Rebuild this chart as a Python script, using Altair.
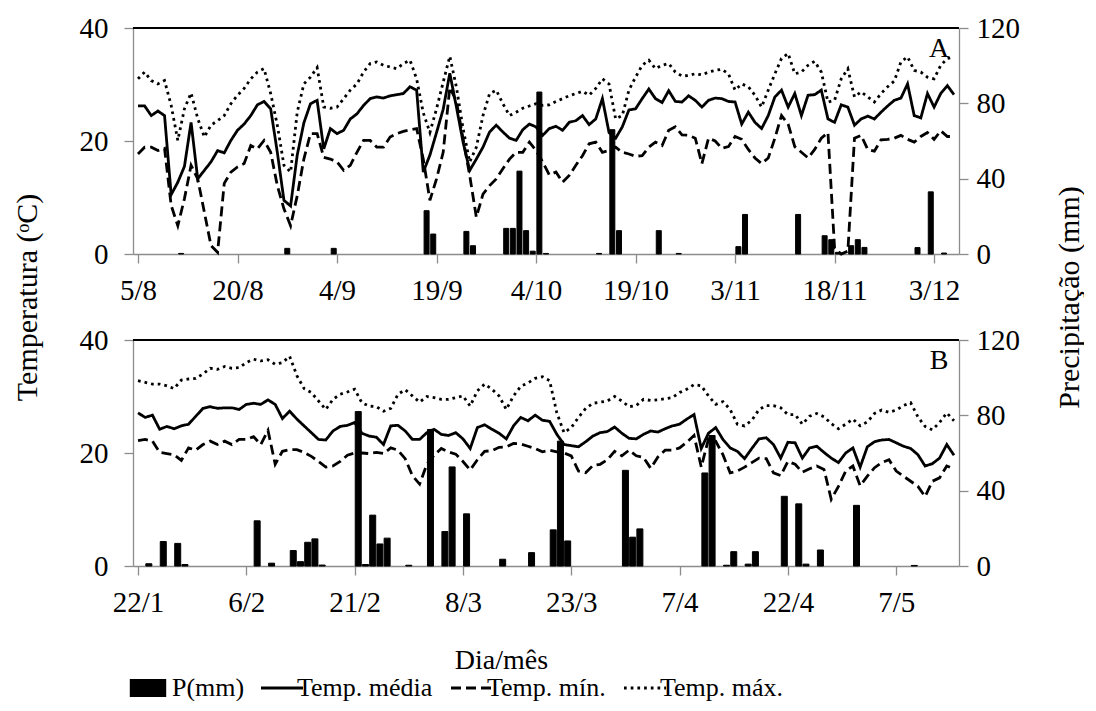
import json
import altair as alt
import pandas as pd

# ---------------- data ----------------
SERIES = ["Temp. média", "Temp. mín.", "Temp. máx."]
DASHES = [[1, 0], [10, 5], [2.7, 4]]

LABELS_A = ["5/8", "20/8", "4/9", "19/9", "4/10", "19/10", "3/11", "18/11", "3/12"]
LABELS_B = ["22/1", "6/2", "21/2", "8/3", "23/3", "7/4", "22/4", "7/5"]

A_MED = [26.2, 26.2, 24.5, 25.3, 24.5, 10.5, 12.7, 15.5, 23.3, 13.3,
         14.8, 16.3, 18.3, 17.9, 20.1, 21.9, 23.0, 24.5, 26.4, 27.0,
         25.7, 18.0, 9.5, 8.5, 17.5, 23.2, 26.6, 27.2, 18.6, 22.2,
         21.3, 21.9, 23.9, 24.8, 26.3, 27.5, 27.8, 27.6, 28.0, 28.2,
         28.4, 29.6, 29.0, 14.5, 17.5, 21.5, 25.6, 32.0, 26.0, 19.8,
         14.8, 16.8, 18.9, 21.6, 22.8, 21.6, 20.5, 20.1, 22.0, 23.0,
         22.5, 21.0, 22.2, 22.6, 21.9, 23.3, 23.6, 24.5, 22.9, 23.9,
         27.5, 21.5, 20.5, 22.5, 25.5, 25.7, 27.5, 29.2, 27.5, 26.8,
         28.9, 27.0, 26.9, 28.0, 27.2, 26.0, 27.2, 27.6, 27.5, 27.0,
         26.9, 23.0, 25.1, 23.3, 22.2, 24.5, 27.8, 29.0, 26.0, 28.4,
         24.5, 28.1, 28.2, 29.0, 23.9, 23.3, 26.4, 26.0, 22.8, 23.9,
         24.4, 23.9, 25.1, 26.2, 27.2, 27.6, 30.1, 24.5, 24.1, 28.4,
         26.0, 28.4, 29.8, 28.2]
A_MIN = [17.7, 18.9, 18.9, 18.3, 18.7, 8.6, 5.0, 9.8, 15.7, 13.3,
         7.4, 1.5, 0.3, 12.5, 14.5, 15.4, 16.0, 19.2, 18.6, 20.1,
         18.0, 12.1, 8.0, 5.0, 10.3, 16.8, 21.3, 21.3, 17.1, 16.8,
         16.3, 14.8, 15.7, 18.0, 20.1, 20.1, 18.9, 18.9, 20.7, 21.3,
         21.7, 22.0, 22.2, 16.8, 9.5, 13.3, 18.0, 29.5, 27.0, 20.4,
         13.9, 6.5, 10.6, 12.1, 13.3, 15.1, 16.8, 18.0, 18.0, 19.8,
         18.3, 16.3, 14.0, 14.5, 12.7, 13.9, 15.7, 17.4, 19.5, 19.8,
         18.0, 18.3, 18.9, 18.0, 17.7, 17.3, 17.4, 18.9, 19.8, 19.2,
         21.9, 22.5, 21.1, 21.0, 20.5, 16.0, 20.5, 20.0, 18.7, 19.0,
         20.8, 20.3, 18.5, 17.0, 16.0, 17.0, 20.5, 24.5, 23.0, 19.0,
         18.0, 17.0, 18.5, 20.5, 21.5, 1.0, 0.0, 0.5, 20.5, 21.0,
         18.5, 18.2, 20.2, 20.3, 20.5, 21.0, 20.3, 19.8, 20.8, 21.5,
         20.3, 21.8, 20.8, 20.8]
A_MAX = [31.0, 32.2, 30.7, 30.1, 30.7, 26.3, 20.1, 25.7, 28.5, 24.0,
         20.7, 22.8, 23.6, 24.5, 26.6, 28.1, 29.3, 31.0, 32.2, 32.8,
         28.4, 22.8, 15.7, 14.5, 25.1, 30.1, 31.3, 33.0, 26.0, 25.8,
         26.0, 27.5, 29.0, 30.1, 32.2, 33.7, 34.0, 33.4, 33.1, 32.8,
         33.7, 34.3, 31.0, 25.0, 21.5, 25.7, 30.4, 35.0, 29.5, 22.2,
         16.3, 18.9, 24.5, 28.4, 29.0, 26.6, 24.5, 25.1, 25.8, 26.2,
         26.6, 26.3, 26.4, 27.0, 27.5, 28.0, 28.4, 28.8, 28.1, 29.3,
         31.0, 30.1, 23.9, 24.5, 29.0, 31.3, 33.4, 34.3, 32.8, 33.4,
         33.7, 32.2, 31.5, 31.6, 31.9, 31.7, 32.2, 32.5, 32.7, 31.9,
         29.0, 30.1, 29.6, 28.1, 26.0, 29.0, 31.9, 34.6, 35.5, 31.9,
         32.2, 33.4, 34.1, 32.2, 26.9, 27.2, 31.0, 32.8, 27.8, 28.7,
         27.8, 26.9, 28.4, 29.6, 30.6, 34.0, 34.9, 32.5, 32.2, 31.3,
         31.0, 33.4, 34.6, 34.9]
A_P_DAY = [6, 22, 29, 43, 44, 49, 50, 55, 56, 57, 58, 59, 60, 61, 69, 71, 72,
           78, 81, 90, 91, 99, 103, 104, 105, 107, 108, 109, 117, 119, 121]
A_P_MM = [0.3, 3.0, 3.0, 23.0, 10.6, 12.0, 4.4, 13.6, 13.6, 44.0, 12.4, 1.5,
          86.0, 0.3, 0.3, 66.0, 12.4, 12.4, 0.3, 3.9, 21.0, 21.0, 9.7, 7.6,
          0.9, 4.4, 7.6, 3.5, 3.4, 33.0, 0.5]

B_MED = [27.1, 26.3, 26.7, 24.2, 24.7, 24.3, 24.8, 25.1, 26.5, 27.9,
         28.2, 27.9, 28.0, 28.0, 27.7, 28.6, 28.8, 28.6, 29.4, 28.6,
         26.1, 27.4, 26.0, 24.8, 23.6, 22.4, 22.3, 23.9, 24.7, 24.9,
         25.4, 23.5, 23.0, 22.8, 21.5, 24.8, 24.9, 23.9, 22.4, 22.4,
         23.6, 24.2, 23.3, 23.1, 23.6, 22.5, 20.8, 24.5, 25.0, 24.2,
         23.5, 22.5, 24.8, 26.3, 25.7, 26.7, 25.8, 25.6, 23.3, 21.5,
         21.3, 21.1, 22.0, 23.0, 23.6, 23.8, 24.6, 23.5, 22.6, 22.5,
         23.3, 23.9, 23.7, 24.3, 24.8, 25.1, 26.0, 26.8, 20.8, 23.5,
         24.5, 22.4, 20.9, 20.3, 19.0, 20.8, 22.5, 22.7, 21.5, 19.1,
         21.9, 21.8, 19.1, 20.9, 21.2, 20.1, 19.1, 18.3, 20.0, 20.9,
         17.5, 21.1, 22.0, 22.3, 22.4, 21.8, 21.2, 20.8, 19.7, 17.7,
         18.1, 19.1, 21.5, 19.6]
B_MIN = [22.2, 22.4, 22.1, 20.1, 19.9, 19.7, 18.7, 20.9, 20.5, 21.5,
         22.1, 21.5, 22.1, 21.5, 22.4, 22.4, 22.9, 21.5, 24.0, 18.0,
         20.3, 20.6, 20.6, 20.1, 19.4, 18.5, 17.5, 17.7, 18.5, 19.6,
         20.0, 20.0, 19.9, 20.1, 19.9, 20.9, 20.5, 19.0, 16.0, 14.5,
         18.0, 19.6, 20.8, 20.2, 19.8, 18.5, 17.0, 18.8, 20.3, 20.4,
         21.0, 21.1, 21.7, 21.6, 21.2, 20.8, 20.2, 20.5, 20.2, 20.0,
         19.5, 16.8, 16.5, 17.8, 18.0, 18.8, 20.3, 19.5, 20.5, 19.5,
         19.2, 17.3, 19.3, 20.5, 20.5, 20.9, 21.9, 23.1, 17.5, 22.5,
         22.1, 19.7, 16.5, 16.8, 17.5, 18.3, 19.1, 19.0, 16.5, 16.0,
         18.5, 18.0, 16.6, 17.2, 17.7, 17.1, 11.8, 14.1, 16.8, 17.7,
         14.2, 15.9, 17.4, 18.3, 18.8, 16.8, 15.9, 15.0, 14.1, 12.3,
         15.0, 15.6, 17.7, 17.2]
B_MAX = [32.8, 32.5, 32.2, 32.2, 31.9, 31.4, 32.9, 33.1, 33.2, 34.0,
         35.0, 34.8, 35.3, 35.0, 35.1, 36.0, 36.6, 36.3, 36.5, 35.7,
         36.0, 37.1, 33.7, 31.4, 30.7, 29.2, 27.7, 29.5, 30.4, 30.8,
         31.3, 28.9, 28.3, 28.2, 27.4, 27.9, 30.4, 31.2, 30.1, 29.0,
         30.0, 29.8, 29.5, 29.5, 29.8, 30.1, 28.3, 31.0, 32.2, 31.3,
         30.1, 27.7, 30.1, 31.8, 32.4, 33.2, 33.5, 32.8, 27.1, 23.6,
         24.5, 26.3, 27.9, 28.8, 29.0, 29.2, 30.0, 29.2, 28.2, 28.4,
         29.5, 29.3, 29.4, 29.6, 29.8, 30.7, 31.3, 32.1, 31.9, 30.1,
         28.6, 29.1, 27.7, 25.1, 24.8, 25.8, 27.7, 28.4, 28.4, 28.0,
         26.8, 26.8, 25.1, 26.5, 27.0, 26.4, 25.2, 24.3, 25.1, 26.0,
         24.8, 25.5, 27.0, 27.6, 27.2, 27.6, 28.4, 28.9, 26.4, 24.7,
         24.1, 25.4, 27.1, 25.7]
B_P_DAY = [1, 3, 5, 6, 16, 18, 21, 22, 23, 24, 25, 30, 31, 32, 33, 34, 37, 40,
           42, 43, 45, 50, 54, 57, 58, 59, 67, 68, 69, 78, 79, 81, 82, 84, 85,
           89, 91, 92, 94, 99, 107]
B_P_MM = [1.2, 13.0, 12.0, 0.8, 24.0, 1.5, 8.2, 2.3, 12.6, 14.4, 0.5, 82.0,
          0.8, 27.0, 11.7, 14.8, 0.4, 72.5, 18.3, 52.6, 27.7, 3.6, 7.1, 19.2,
          66.3, 13.3, 50.8, 15.3, 19.7, 49.4, 69.3, 0.4, 7.6, 1.0, 7.6, 37.0,
          33.0, 1.0, 8.5, 32.2, 0.3]

FONT = "Liberation Serif"
GRAY = "#8c8c8c"
W = 826
H = 226
LEG_Y = 647

# one legend definition shared by both panels (so the merged legend keeps it)
P_LEGEND = alt.Legend(orient="none", legendX=2, legendY=LEG_Y, title=None,
                      symbolType="M-2.6,-1.3H2.6V1.3H-2.6Z", symbolSize=196,
                      symbolStrokeWidth=0, labelOffset=11, direction="horizontal")
D_LEGEND = alt.Legend(orient="none", legendX=136, legendY=LEG_Y, title=None,
                      symbolType="M-3,0H3", symbolSize=196, symbolStrokeWidth=3,
                      symbolStrokeColor="black", labelOffset=2,
                      direction="horizontal", columns=3, columnPadding=12,
                      labelLimit=400)


def line_frame(med, mn, mx):
    rows = []
    for name, vals in zip(SERIES, [med, mn, mx]):
        for d, v in enumerate(vals):
            rows.append({"day": d, "t": v, "serie": name})
    return pd.DataFrame(rows)


def panel(med, mn, mx, pday, pmm, labels, ndays, letter, first, bar_w):
    x_scale = alt.Scale(domain=[0, ndays], nice=False, zero=False)
    x_kw = dict(values=[15 * i for i in range(len(labels))],
                labelExpr=json.dumps(labels) + "[round(datum.value / 15)]",
                labelFlush=False, labelOverlap=False, labelPadding=13)
    if first:
        x_axis = alt.Axis(title=None, **x_kw)
        left_axis = alt.Axis(orient="left", values=[0, 20, 40], labelPadding=16,
                             labelFlush=False, title="Temperatura (ᵒC)",
                             titleFontSize=30,
                             titleAngle=270, titleX=-97, titleY=269,
                             titleAlign="center", titleBaseline="alphabetic")
        right_axis = alt.Axis(orient="right", values=[0, 40, 80, 120],
                              labelPadding=8, labelFlush=False,
                              title="Precipitação (mm)", titleFontSize=30,
                              titleAngle=270,
                              titleX=119, titleY=269, titleAlign="center",
                              titleBaseline="alphabetic")
    else:
        x_axis = alt.Axis(title="Dia/mês", titleX=368, titleY=102, titleFontSize=28,
                          titleAlign="center", titleBaseline="alphabetic",
                          **x_kw)
        left_axis = alt.Axis(orient="left", values=[0, 20, 40], labelPadding=16,
                             labelFlush=False, title=None)
        right_axis = alt.Axis(orient="right", values=[0, 40, 80, 120],
                              labelPadding=8, labelFlush=False, title=None)

    pdf = pd.DataFrame({"day": pday, "p": pmm, "serie": ["P(mm)"] * len(pday)})
    bars = alt.Chart(pdf).transform_calculate(
        xc="datum.day + 0.5"
    ).mark_bar(width=bar_w, stroke="black", strokeWidth=1).encode(
        x=alt.X("xc:Q", scale=x_scale, axis=x_axis),
        y=alt.Y("p:Q", scale=alt.Scale(domain=[0, 120], nice=False), axis=right_axis),
        color=alt.Color("serie:N", scale=alt.Scale(domain=["P(mm)"], range=["black"]),
                        legend=P_LEGEND),
    )
    lines = alt.Chart(line_frame(med, mn, mx)).mark_line(
        color="black", strokeWidth=2.8
    ).encode(
        x=alt.X("day:Q", scale=x_scale, axis=x_axis),
        y=alt.Y("t:Q", scale=alt.Scale(domain=[0, 40], nice=False), axis=left_axis),
        strokeDash=alt.StrokeDash("serie:N", scale=alt.Scale(domain=SERIES, range=DASHES),
                                  sort=SERIES, legend=D_LEGEND),
    )
    border = alt.Chart(pd.DataFrame({"k": [0]})).mark_rule(
        color="black", strokeWidth=2
    ).encode(x=alt.value(0), x2=alt.value(W), y=alt.value(0))
    tag = alt.Chart(pd.DataFrame({"k": [0]})).mark_text(
        text=letter, font=FONT, fontSize=28, align="center", baseline="alphabetic",
        color="black"
    ).encode(x=alt.value(806), y=alt.value(29))
    return alt.layer(bars, lines, border, tag).resolve_scale(y="independent").properties(
        width=W, height=H
    )


top = panel(A_MED, A_MIN, A_MAX, A_P_DAY, A_P_MM, LABELS_A, 123, "A", True, 5)
bottom = panel(B_MED, B_MIN, B_MAX, B_P_DAY, B_P_MM, LABELS_B, 113, "B", False, 6)

chart = alt.vconcat(top, bottom, spacing=86, bounds="flush").properties(
    padding={"left": 4, "top": 6, "right": 0, "bottom": 0}
).configure_view(stroke=None).configure_axis(
    grid=False, labelFont=FONT, labelFontSize=29, labelColor="black",
    titleFont=FONT, titleFontSize=30, titleFontWeight="normal", titleColor="black",
    domainColor=GRAY, tickColor=GRAY, domainWidth=1.3, tickWidth=1.3, tickSize=9,
).configure_legend(
    labelFont=FONT, labelFontSize=26, labelColor="black", padding=0
)

chart.save("out.html", embed_options={"renderer": "svg", "actions": False})
